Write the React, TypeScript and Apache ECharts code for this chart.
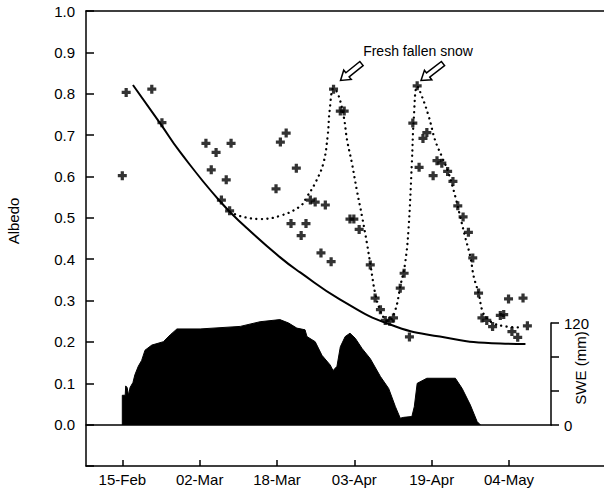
import React, { useEffect, useRef } from 'react';
import * as echarts from 'echarts';

// x values are days counted from 15-Feb
const tickDays = [0, 16, 32, 48, 64, 80];
const tickLabels = ['15-Feb', '02-Mar', '18-Mar', '03-Apr', '19-Apr', '04-May'];

// measured albedo (+ markers)
const albedoObs: [number, number][] = [
  [0.0, 0.602], [0.8, 0.803], [6.1, 0.811], [8.2, 0.73], [17.3, 0.68], [18.4, 0.616],
  [19.4, 0.658], [20.5, 0.543], [21.5, 0.592], [22.2, 0.517], [22.5, 0.68], [31.8, 0.57],
  [32.7, 0.683], [33.9, 0.705], [34.9, 0.486], [36.0, 0.62], [37.0, 0.457], [38.0, 0.486],
  [38.9, 0.543], [39.9, 0.538], [41.1, 0.415], [42.0, 0.531], [43.2, 0.394], [43.7, 0.811],
  [45.1, 0.758], [45.9, 0.758], [47.1, 0.497], [47.9, 0.497], [49.0, 0.472], [51.3, 0.386],
  [52.3, 0.306], [53.4, 0.278], [54.4, 0.252], [55.3, 0.25], [56.1, 0.258], [57.5, 0.33],
  [58.3, 0.366], [59.4, 0.212], [60.1, 0.729], [61.0, 0.819], [61.4, 0.622], [62.2, 0.692],
  [63.0, 0.706], [64.3, 0.602], [65.1, 0.638], [66.1, 0.632], [67.3, 0.612], [68.4, 0.588],
  [69.4, 0.529], [70.5, 0.502], [71.6, 0.465], [72.5, 0.403], [73.7, 0.318], [74.4, 0.258],
  [75.4, 0.252], [76.6, 0.237], [78.2, 0.264], [78.9, 0.266], [79.9, 0.304], [80.6, 0.225],
  [81.8, 0.211], [82.9, 0.306], [83.8, 0.239],
];

// solid decay curve
const decayCurve: [number, number][] = [
  [2.2, 0.821], [7.8, 0.729], [11.9, 0.66], [20.2, 0.54], [25.8, 0.475], [32.6, 0.405],
  [36.8, 0.368], [45, 0.303], [55.4, 0.242], [65.7, 0.213], [78.2, 0.196], [83.4, 0.195],
];

// dotted fresh-snow curve
const freshSnowCurve: [number, number][] = [
  [22.3, 0.515], [24.4, 0.504], [28.5, 0.497], [32.7, 0.505], [36.8, 0.528], [38.2, 0.551],
  [39.9, 0.584], [41.6, 0.632], [42.5, 0.7], [42.9, 0.76], [43.7, 0.813], [44.6, 0.8],
  [45.8, 0.745], [46.5, 0.688], [47.5, 0.632], [48.5, 0.568], [49.6, 0.503], [50.6, 0.439],
  [51.4, 0.382], [52.3, 0.318], [53.4, 0.274], [54.4, 0.254], [55.1, 0.25], [56.5, 0.278],
  [57.5, 0.334], [58.5, 0.39], [59.2, 0.471], [59.9, 0.632], [60.3, 0.74], [61.0, 0.818],
  [62.0, 0.793], [63.4, 0.745], [64.7, 0.688], [66.1, 0.648], [67.5, 0.608], [68.9, 0.551],
  [69.9, 0.503], [70.9, 0.455], [72.0, 0.406], [72.7, 0.358], [73.7, 0.318], [74.4, 0.278],
  [75.1, 0.262], [76.8, 0.245], [79.6, 0.237], [82.3, 0.235],
];

// snow water equivalent (mm)
const sweMm: [number, number][] = [
  [0, 0], [0, 35], [0.6, 35], [0.7, 46], [1.0, 44], [1.3, 35], [1.6, 44], [2.2, 50], [2.6, 59],
  [3.3, 69], [4.0, 76], [4.7, 88], [6.1, 94], [8.5, 98], [9.9, 106], [11.3, 113], [16.1, 113],
  [24.4, 116], [28.5, 121.5], [32.6, 124], [34.4, 120], [36.1, 114], [37.8, 112], [38.2, 104],
  [39.9, 98], [41.3, 82], [43.0, 70.6], [43.6, 64], [44.4, 69], [45.1, 92], [46.1, 104],
  [47.1, 108], [48.2, 102], [49.6, 90], [51.3, 78], [53.4, 57], [55.1, 43], [56.5, 21.5],
  [57.5, 8], [58.2, 9], [59.9, 10], [60.4, 21.5], [61.0, 49], [63.0, 55], [68.9, 55],
  [70.3, 43], [72.0, 23.5], [73.4, 4], [74.1, 0],
];

const FONT = '"Liberation Sans", Arial, Helvetica, sans-serif';
const BLACK = '#000';

function arrowPoints(tipX: number, tipY: number, tailX: number, tailY: number) {
  const dx = tipX - tailX;
  const dy = tipY - tailY;
  const L = Math.hypot(dx, dy);
  const ux = dx / L;
  const uy = dy / L;
  const nx = -uy;
  const ny = ux;
  const hb = 9, hw = 6, sw = 2.6;
  const bx = tipX - ux * hb;
  const by = tipY - uy * hb;
  return [
    [tipX, tipY],
    [bx + nx * hw, by + ny * hw],
    [bx + nx * sw, by + ny * sw],
    [tailX + nx * sw, tailY + ny * sw],
    [tailX - nx * sw, tailY - ny * sw],
    [bx - nx * sw, by - ny * sw],
    [bx - nx * hw, by - ny * hw],
  ];
}

export default function App() {
  const ref = useRef<HTMLDivElement>(null);
  useEffect(() => {
    const chart = echarts.init(ref.current!, null, { renderer: 'svg' });
    const xMin = -7.51;
    const xMax1 = 99.65;
    const xMax2 = 88.68;
    const labelMap: Record<number, string> = {};
    tickDays.forEach((d, i) => (labelMap[d] = tickLabels[i]));
    chart.setOption({
      animation: false,
      backgroundColor: '#fff',
      grid: [
        { left: 86, right: 0, top: 11, bottom: 22 },
        { left: 86, right: 53, top: 323, bottom: 63 },
      ],
      xAxis: [
        {
          type: 'value', gridIndex: 0, min: xMin, max: xMax1, position: 'bottom',
          axisLine: { show: true, onZero: false, lineStyle: { color: BLACK, width: 1.5 } },
          axisTick: { show: true, inside: true, length: 6, customValues: tickDays, lineStyle: { color: BLACK, width: 1.5 } },
          axisLabel: {
            show: true, customValues: tickDays, margin: 6, color: BLACK, fontSize: 15, fontFamily: FONT,
            formatter: (v: number) => labelMap[Math.round(v)] ?? '',
          },
          splitLine: { show: false },
        },
        {
          type: 'value', gridIndex: 0, min: xMin, max: xMax1, position: 'top',
          axisLine: { show: true, onZero: false, lineStyle: { color: BLACK, width: 1.5 } },
          axisTick: { show: false }, axisLabel: { show: false }, splitLine: { show: false },
        },
        {
          type: 'value', gridIndex: 1, min: xMin, max: xMax2, position: 'bottom',
          axisLine: { show: true, onZero: false, lineStyle: { color: BLACK, width: 1.5 } },
          axisTick: { show: false }, axisLabel: { show: false }, splitLine: { show: false },
        },
      ],
      yAxis: [
        {
          type: 'value', gridIndex: 0, min: -0.1, max: 1.0, interval: 0.1, position: 'left',
          axisLine: { show: true, onZero: false, lineStyle: { color: BLACK, width: 1.5 } },
          axisTick: { show: true, inside: true, length: 8, lineStyle: { color: BLACK, width: 1.5 } },
          axisLabel: {
            margin: 11, color: BLACK, fontSize: 15, fontFamily: FONT,
            formatter: (v: number) => (v < -0.05 ? '' : v.toFixed(1)),
          },
          splitLine: { show: false },
        },
        {
          type: 'value', gridIndex: 1, min: 0, max: 120, interval: 40, position: 'right',
          axisLine: { show: true, onZero: false, lineStyle: { color: BLACK, width: 1.5 } },
          axisTick: { show: true, inside: false, length: 8, lineStyle: { color: BLACK, width: 1.5 } },
          axisLabel: {
            margin: 13, color: BLACK, fontSize: 15, fontFamily: FONT,
            formatter: (v: number) => (v === 0 || v === 120 ? String(v) : ''),
          },
          splitLine: { show: false },
        },
      ],
      series: [
        {
          type: 'line', name: 'SWE', xAxisIndex: 2, yAxisIndex: 1, data: sweMm,
          symbol: 'none', clip: false, z: 1,
          lineStyle: { color: BLACK, width: 1 },
          areaStyle: { color: BLACK, opacity: 1 },
        },
        {
          type: 'line', name: 'Decay', xAxisIndex: 0, yAxisIndex: 0, data: decayCurve,
          symbol: 'none', smooth: 0.5, z: 3,
          lineStyle: { color: BLACK, width: 2 },
        },
        {
          type: 'line', name: 'Fresh snow', xAxisIndex: 0, yAxisIndex: 0, data: freshSnowCurve,
          symbol: 'none', smooth: 0.4, z: 3,
          lineStyle: { color: BLACK, width: 2.3, type: [0.1, 5.4], cap: 'round' },
        },
        {
          type: 'scatter', name: 'Albedo', xAxisIndex: 0, yAxisIndex: 0, data: albedoObs,
          symbol: 'path://M3.2,0H6.8V3.2H10V6.8H6.8V10H3.2V6.8H0V3.2H3.2Z', symbolSize: 9, z: 4,
          itemStyle: { color: BLACK },
        },
      ],
      graphic: [
        {
          type: 'text', x: 13, y: 221, rotation: Math.PI / 2,
          style: { text: 'Albedo', fontSize: 15, fontFamily: FONT, fill: BLACK, align: 'center', verticalAlign: 'middle' },
        },
        {
          type: 'text', x: 580, y: 368, rotation: Math.PI / 2,
          style: { text: 'SWE (mm)', fontSize: 15, fontFamily: FONT, fill: BLACK, align: 'center', verticalAlign: 'middle' },
        },
        {
          type: 'text', x: 418, y: 51,
          style: { text: 'Fresh fallen snow', fontSize: 14, fontFamily: FONT, fill: BLACK, align: 'center', verticalAlign: 'middle' },
        },
        {
          type: 'polygon', shape: { points: arrowPoints(340.5, 80.5, 361.5, 63.5) },
          style: { fill: '#fff', stroke: BLACK, lineWidth: 1.5 }, z: 10,
        },
        {
          type: 'polygon', shape: { points: arrowPoints(421, 80.5, 443, 63.5) },
          style: { fill: '#fff', stroke: BLACK, lineWidth: 1.5 }, z: 10,
        },
      ],
    });
    return () => chart.dispose();
  }, []);
  return (
    <div
      ref={ref}
      style={{ position: 'fixed', left: 0, top: 0, width: 604, height: 488, background: '#fff' }}
    />
  );
}
